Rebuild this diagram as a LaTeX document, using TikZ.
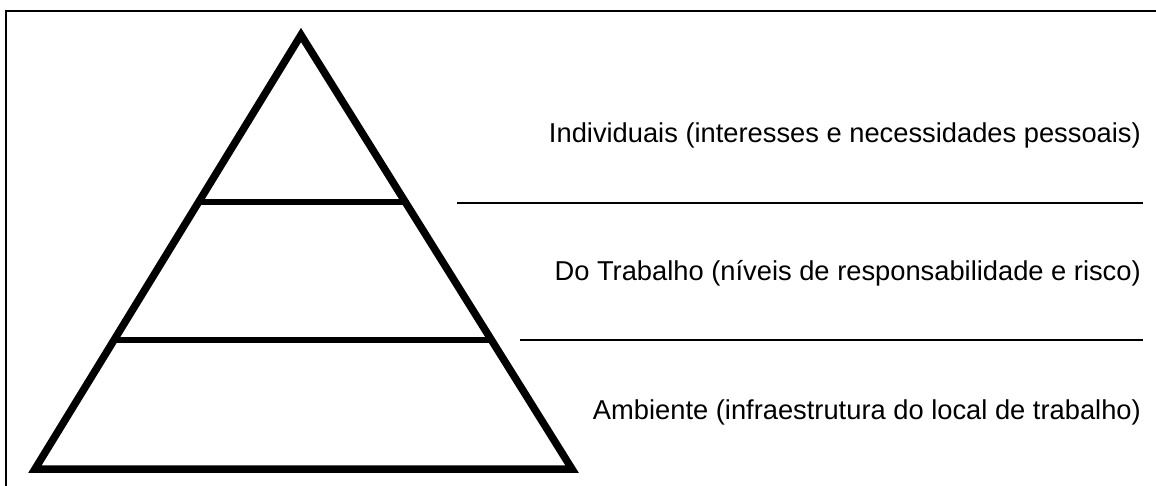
\documentclass[tikz,border=0pt]{standalone}
\usepackage{fontspec}
\setmainfont{Liberation Sans}
\begin{document}
\begin{tikzpicture}[x=1pt,y=-1pt,
  thick/.style={line width=7.5pt,line join=miter},
  mid/.style={line width=6.5pt},
  rule/.style={line width=1.2pt},
  lab/.style={anchor=east,inner sep=0pt,font=\fontsize{27.3}{32}\selectfont}]
\useasboundingbox (0,0) rectangle (1156,486);
\draw[line width=1.6pt] (6,486) -- (6,11) -- (1156,11);
\coordinate (apex) at (301,35);
\coordinate (bl) at (35,469);
\coordinate (br) at (572,469);
\draw[thick] (apex) -- (br) -- (bl) -- cycle;
\draw[mid] (199,202) -- (404,202);
\draw[mid] (113,340) -- (489,340);
\coordinate (a1) at (457,203);
\coordinate (b1) at (1143,203);
\coordinate (a2) at (520,340);
\coordinate (b2) at (1143,340);
\draw[rule] (a1) -- (b1);
\draw[rule] (a2) -- (b2);
\node[lab] (t1) at (1141,135) {Individuais (interesses e necessidades pessoais)};
\node[lab] (t2) at (1141,273) {Do Trabalho (níveis de responsabilidade e risco)};
\node[lab] (t3) at (1141,412) {Ambiente (infraestrutura do local de trabalho)};
\end{tikzpicture}
\end{document}
